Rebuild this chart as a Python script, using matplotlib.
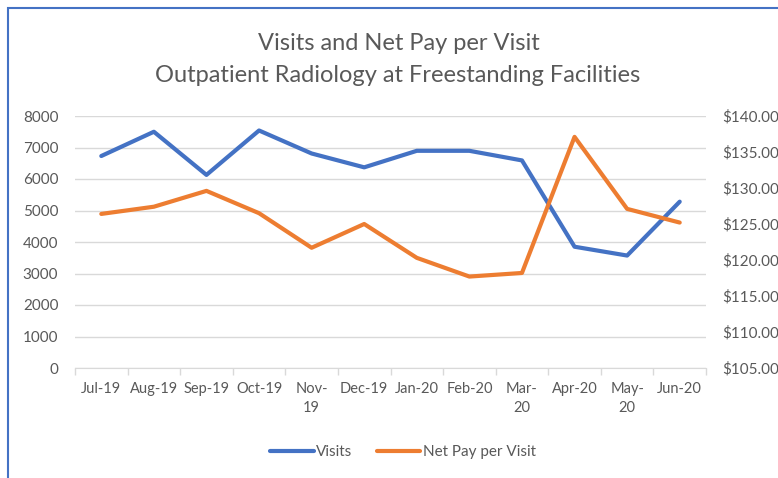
import matplotlib.pyplot as plt
from matplotlib.patches import Rectangle
from matplotlib.ticker import FuncFormatter

# Data
months = ["Jul-19", "Aug-19", "Sep-19", "Oct-19", "Nov-\n19", "Dec-19",
          "Jan-20", "Feb-20", "Mar-\n20", "Apr-20", "May-\n20", "Jun-20"]
visits = [6730, 7500, 6130, 7540, 6810, 6370, 6895, 6895, 6590, 3850, 3570, 5280]
net_pay = [126.4, 127.4, 129.6, 126.5, 121.7, 125.0,
           120.3, 117.7, 118.2, 137.1, 127.1, 125.2]

blue = "#4472C4"
orange = "#ED7D31"
grey_text = "#595959"
grid_col = "#D9D9D9"

plt.rcParams["font.family"] = ["Lato", "DejaVu Sans"]

fig = plt.figure(figsize=(7.78, 4.78), dpi=100)
ax = fig.add_axes([75 / 778, 1 - 368 / 478, (706 - 75) / 778, (368 - 116) / 478])
ax2 = ax.twinx()

x = list(range(len(months)))
ax.plot(x, visits, color=blue, linewidth=3, solid_capstyle="round",
        solid_joinstyle="round", label="Visits", zorder=3)
ax2.plot(x, net_pay, color=orange, linewidth=3, solid_capstyle="round",
         solid_joinstyle="round", label="Net Pay per Visit", zorder=3)

ax.set_xlim(-0.5, len(months) - 0.5)
ax.set_ylim(0, 8000)
ax.set_yticks(range(0, 8001, 1000))
ax2.set_ylim(105, 140)
ax2.set_yticks(range(105, 141, 5))
ax2.yaxis.set_major_formatter(FuncFormatter(lambda v, p: f"${v:.2f}"))

ax.set_xticks(x)
ax.set_xticklabels(months, linespacing=1.45)
ax.set_xticks([i - 0.5 for i in range(len(months) + 1)], minor=True)
ax.tick_params(axis="x", which="major", length=0, pad=10,
               labelsize=10.5, labelcolor=grey_text)
ax.tick_params(axis="x", which="minor", length=5, color=grid_col, width=1)
ax.tick_params(axis="y", length=0, pad=12, labelsize=11, labelcolor=grey_text)
# the reference cuts the dollar labels at the right edge as well
ax2.tick_params(axis="y", length=0, pad=12, labelsize=11, labelcolor=grey_text)

ax.grid(axis="y", color=grid_col, linewidth=1)
ax.set_axisbelow(True)
for side in ["top", "left", "right"]:
    ax.spines[side].set_visible(False)
    ax2.spines[side].set_visible(False)
ax.spines["bottom"].set_color(grid_col)
ax2.spines["bottom"].set_visible(False)

fig.text(399 / 778, 1 - 43 / 478, "Visits and Net Pay per Visit",
         ha="center", va="center", fontsize=17, color=grey_text)
fig.text(398 / 778, 1 - 75 / 478, "Outpatient Radiology at Freestanding Facilities",
         ha="center", va="center", fontsize=17, color=grey_text)

h1, l1 = ax.get_legend_handles_labels()
h2, l2 = ax2.get_legend_handles_labels()
fig.legend(h1 + h2, l1 + l2, loc="center", bbox_to_anchor=(403 / 778, 1 - 452 / 478),
           ncol=2, frameon=False, fontsize=11, labelcolor=grey_text,
           handlelength=2.85, handletextpad=0.15, columnspacing=1.6)

# chart frame (blue outline, cut off on the right and bottom)
fig.patches.append(Rectangle((8 / 778, -0.1), 1.2, 1.1 - 8 / 478,
                             transform=fig.transFigure, fill=False,
                             edgecolor=blue, linewidth=1.5))

fig.savefig("out.png", dpi=100)
